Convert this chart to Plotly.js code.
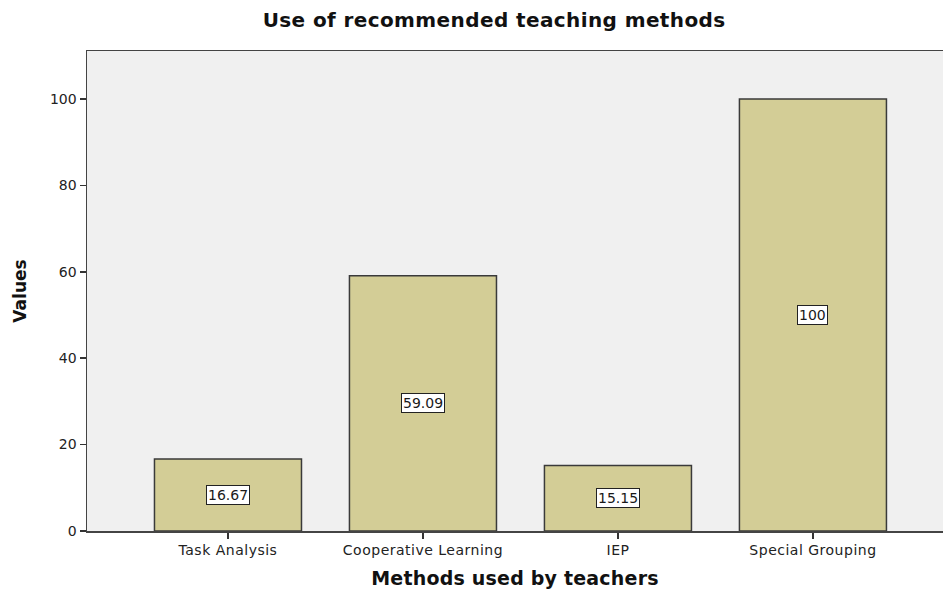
<!DOCTYPE html>
<html>
<head>
<meta charset="utf-8">
<script src="https://cdn.plot.ly/plotly-3.0.1.min.js"></script>
<style>
html,body{margin:0;padding:0;background:#fff;}
#chart{width:943px;height:591px;}
#chart .gtitle{letter-spacing:0.4px;}
#chart .xtitle{letter-spacing:0.2px;}
#chart .xtick text{letter-spacing:0.5px;}
</style>
</head>
<body>
<div id="chart"></div>
<script>
const categories = ["Task Analysis", "Cooperative Learning", "IEP", "Special Grouping"];
const values = [16.67, 59.09, 15.15, 100];
const valueLabels = ["16.67", "59.09", "15.15", "100"];
const yTicks = [0, 20, 40, 60, 80, 100];

const FONT = "DejaVu Sans, Verdana, sans-serif";

const trace = {
  type: "bar",
  x: categories,
  y: values,
  marker: {color: "#d3cd96", line: {color: "#3a3a3a", width: 1.5}},
  hoverinfo: "none"
};

const annotations = categories.map((c, i) => ({
  x: c, y: values[i] / 2, xref: "x", yref: "y",
  text: valueLabels[i], showarrow: false,
  bgcolor: "#ffffff", bordercolor: "#222", borderwidth: 1, borderpad: 1,
  font: {family: FONT, size: 14, color: "#1a1a1a"}
}));

const layout = {
  width: 943, height: 591,
  margin: {l: 87, r: 0, t: 51, b: 60},
  paper_bgcolor: "#ffffff",
  plot_bgcolor: "#f0f0f0",
  bargap: 0.246,
  showlegend: false,
  title: {
    text: "<b>Use of recommended teaching methods</b>",
    x: 0.524, xref: "container", xanchor: "center",
    y: 0.966, yref: "container", yanchor: "middle",
    font: {family: FONT, size: 20, color: "#111"}
  },
  xaxis: {
    type: "category",
    range: [-0.723, 3.667],
    showline: true, mirror: true, linecolor: "#444", linewidth: 1.5,
    ticks: "outside", ticklen: 6, tickcolor: "#333", tickwidth: 1.5,
    showgrid: false, zeroline: false,
    tickfont: {family: FONT, size: 14, color: "#222"},
    title: {text: "<b>Methods used by teachers</b>", standoff: 14,
      font: {family: FONT, size: 19, color: "#111"}}
  },
  yaxis: {
    range: [0, 111.1],
    tickvals: yTicks,
    showline: true, linecolor: "#444", linewidth: 1.5,
    ticks: "outside", ticklen: 6, tickcolor: "#333", tickwidth: 1.5,
    showgrid: false, zeroline: false,
    tickfont: {family: FONT, size: 14, color: "#222"},
    title: {text: "<b>Values</b>", standoff: 19,
      font: {family: FONT, size: 17, color: "#111"}}
  },
  annotations: annotations
};

Plotly.newPlot("chart", [trace], layout, {displayModeBar: false, staticPlot: true});
</script>
</body>
</html>
